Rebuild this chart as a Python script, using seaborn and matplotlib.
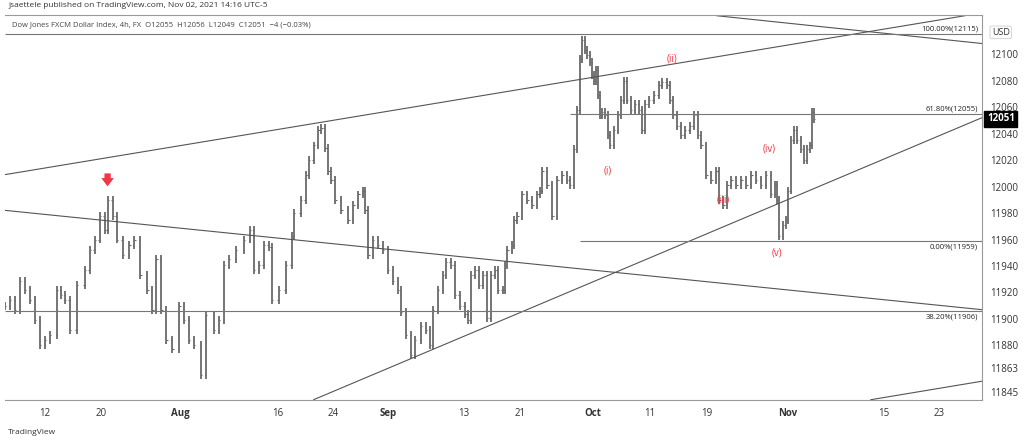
import matplotlib
matplotlib.use("Agg")
import matplotlib.pyplot as plt
import seaborn as sns
import numpy as np
import pandas as pd

# bar positions (chart x units, ~bar index scaled) and closing prices
bar_x = [0, 5, 10, 15, 20, 25, 30, 35, 40, 45, 52, 56, 60, 65, 72, 80, 85, 90, 95, 100,
         103, 108, 112, 118, 125, 130, 136, 143, 148, 152, 157, 162, 168, 175, 180, 185, 190, 197, 202, 210,
         215, 220, 225, 232, 240, 246, 250, 255, 260, 265, 268, 275, 282, 288, 290, 297, 302, 305, 310, 315,
         318, 322, 325, 328, 332, 338, 345, 350, 355, 360, 362, 365, 370, 375, 380, 385, 390, 395, 398, 403,
         408, 412, 418, 423, 427, 430, 435, 440, 443, 448, 452, 457, 462, 465, 468, 472, 476, 480, 484, 488,
         492, 495, 500, 502, 505, 510, 512, 515, 520, 525, 530, 535, 538, 540, 545, 550, 555, 560, 565, 568,
         572, 575, 578, 580, 583, 585, 588, 590, 592, 594, 596, 598, 600, 603, 606, 608, 612, 616, 619, 622,
         625, 629, 633, 637, 640, 643, 647, 652, 657, 660, 665, 668, 671, 675, 679, 683, 688, 692, 696, 700,
         705, 710, 715, 718, 722, 726, 730, 735, 740, 745, 750, 755, 760, 765, 770, 774, 776, 778, 782, 785,
         787, 790, 793, 796, 800, 803, 806, 809, 811, 813]
closes = [11910, 11914, 11907, 11929, 11922, 11914, 11899, 11880, 11884, 11888, 11922, 11918, 11914, 11892, 11926, 11937, 11952, 11960, 11978, 11967,
          11990, 11978, 11960, 11948, 11956, 11960, 11933, 11922, 11907, 11945, 11907, 11884, 11877, 11910, 11899, 11884, 11880, 11858, 11903, 11892,
          11899, 11941, 11945, 11952, 11960, 11967, 11937, 11941, 11956, 11954, 11914, 11922, 11941, 11963, 11980, 11990, 12009, 12020, 12031, 12043,
          12044, 12029, 12012, 12005, 11990, 11982, 11975, 11986, 11994, 11997, 11982, 11948, 11960, 11956, 11952, 11937, 11929, 11922, 11905, 11888,
          11873, 11884, 11895, 11892, 11880, 11907, 11922, 11933, 11943, 11941, 11918, 11910, 11904, 11899, 11933, 11937, 11926, 11933, 11901, 11933,
          11937, 11922, 11922, 11941, 11952, 11956, 11975, 11978, 11994, 11990, 11986, 11994, 11997, 12012, 12001, 11978, 12005, 12009, 12005, 12001,
          12028, 12058, 12096, 12111, 12103, 12099, 12094, 12084, 12080, 12088, 12069, 12054, 12056, 12054, 12039, 12031, 12043, 12054, 12065, 12080,
          12065, 12058, 12062, 12058, 12043, 12062, 12065, 12069, 12077, 12079, 12077, 12065, 12054, 12046, 12039, 12043, 12046, 12054, 12039, 12031,
          12009, 12005, 12012, 11990, 11986, 12001, 12005, 12001, 12005, 12001, 12009, 12005, 12001, 12009, 11994, 12001, 11990, 11963, 11971, 11975,
          11997, 12035, 12043, 12035, 12028, 12020, 12028, 12031, 12056, 12051]

tick_pos = [40, 97, 176, 274, 330, 385, 461, 518, 591, 648, 705, 787, 883, 939]
tick_labels = ["12", "20", "Aug", "16", "24", "Sep", "13", "21", "Oct", "11", "19", "Nov", "15", "23"]
month_labels = ["Aug", "Sep", "Oct", "Nov"]
price_ticks = [12100, 12080, 12060, 12040, 12020, 12000, 11980, 11960, 11940, 11920, 11900, 11880, 11863, 11845]

# trendlines as (x0, p0, x1, p1)
trendlines = [
    (0, 12009, 965, 12129),   # upper channel
    (310, 11839, 982, 12052), # lower rising line
    (0, 11982, 982, 11907),   # falling line
    (715, 12129, 982, 12108), # falling line from top
    (870, 11839, 982, 11853), # bottom right
]
fibs = [(0, 12115, "100.00%(12115)"), (568, 12055, "61.80%(12055)"),
        (578, 11959, "0.00%(11959)"), (0, 11906, "38.20%(11906)")]
waves = [(606, 12012, "(i)"), (670, 12096, "(ii)"), (722, 11990, "(iii)"),
         (768, 12028, "(iv)"), (776, 11950, "(v)")]

sns.set_style("white")
plt.rcParams["font.family"] = ["Open Sans", "DejaVu Sans"]

fig = plt.figure(figsize=(10.24, 4.42), dpi=100)
ax = fig.add_axes([0.005, 0.095, 0.954, 0.871])
x_max, y_lo, y_hi = 982, 11838.8, 12129.5

# OHLC bars
bar_color = "#6a6a6a"
opens = [closes[0]] + closes[:-1]
highs = [max(o, c) + 3 for o, c in zip(opens, closes)]
lows = [min(o, c) - 3 for o, c in zip(opens, closes)]
ax.vlines(bar_x, lows, highs, color=bar_color, lw=1.3)
ax.hlines(opens, np.array(bar_x) - 1.3, bar_x, color=bar_color, lw=0.8)
ax.hlines(closes, bar_x, np.array(bar_x) + 1.3, color=bar_color, lw=0.8)

# trendlines via seaborn
for x0, p0, x1, p1 in trendlines:
    df = pd.DataFrame({"x": [x0, x1], "p": [p0, p1]})
    sns.lineplot(data=df, x="x", y="p", ax=ax, color="#555555", lw=0.8)

for x0, p, lab in fibs:
    ax.hlines(p, x0, x_max, color="#777777", lw=0.8)
    va = "bottom" if p > 12000 else "top"
    ax.text(978, p + (1 if va == "bottom" else -2), lab, ha="right", va=va, fontsize=5.5, color="#222222")

for x, p, lab in waves:
    ax.text(x, p, lab, ha="center", va="center", fontsize=7, color="#f23645")

ax.annotate("", xy=(103, 11998), xytext=(103, 12012),
            arrowprops=dict(arrowstyle="simple,head_width=0.9,head_length=0.6,tail_width=0.45",
                            color="#f23645", lw=0))

ax.set_xlim(0, x_max)
ax.set_ylim(y_lo, y_hi)
ax.set_xlabel("")
ax.set_ylabel("")
ax.yaxis.tick_right()
ax.set_yticks(price_ticks)
ax.set_yticklabels([str(t) for t in price_ticks], fontsize=7, color="#333333")
ax.set_xticks(tick_pos)
ax.set_xticklabels(tick_labels, fontsize=7, color="#333333")
for t in ax.get_xticklabels():
    if t.get_text() in month_labels:
        t.set_fontweight("bold")
ax.tick_params(length=0, pad=6)
ax.spines["left"].set_visible(False)
for side in ["top", "bottom", "right"]:
    ax.spines[side].set_color("#999999")
    ax.spines[side].set_linewidth(0.8)

# last price box and currency label
ax.text(1.005, (12051 - y_lo) / (y_hi - y_lo), "12051", transform=ax.transAxes, ha="left", va="center",
        fontsize=7, color="white", fontweight="bold",
        bbox=dict(boxstyle="square,pad=0.25", fc="black", ec="black"))
ax.text(1.01, 0.955, "USD", transform=ax.transAxes, ha="left", va="center", fontsize=6.5, color="#333333",
        bbox=dict(boxstyle="round,pad=0.2", fc="white", ec="#cccccc", lw=0.6))

fig.text(0.008, 0.988, "jsaettele published on TradingView.com, Nov 02, 2021 14:16 UTC-5",
         ha="left", va="center", fontsize=6, color="#333333")
ax.text(0.007, 0.985, "Dow Jones FXCM Dollar Index, 4h, FX  O12055  H12056  L12049  C12051  \u22124 (\u22120.03%)",
        transform=ax.transAxes, ha="left", va="top", fontsize=5.5, color="#444444")
fig.text(0.008, 0.022, "TradingView", ha="left", va="center", fontsize=6, color="#333333")

fig.savefig("out.png", dpi=100)
